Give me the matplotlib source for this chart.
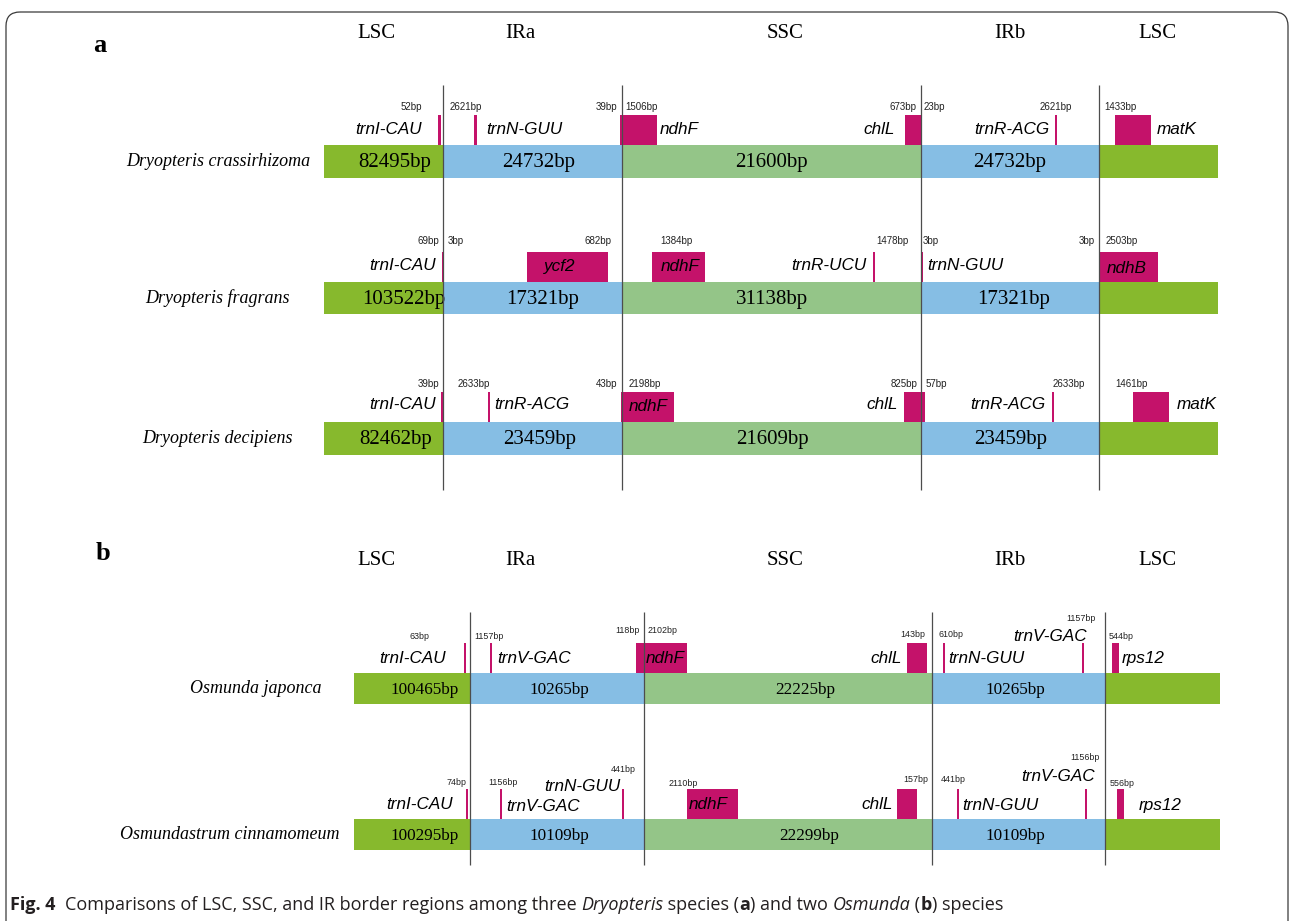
import matplotlib
matplotlib.use('Agg')
import matplotlib.pyplot as plt
from matplotlib.patches import Rectangle, FancyBboxPatch

# ---- data -------------------------------------------------------------
regions = ['LSC', 'IRa', 'SSC', 'IRb', 'LSC']

species = ['Dryopteris crassirhizoma', 'Dryopteris fragrans', 'Dryopteris decipiens',
           'Osmunda japonca', 'Osmundastrum cinnamomeum']

# LSC, IRa, SSC, IRb lengths
lengths = [
    [82495, 24732, 21600, 24732],
    [103522, 17321, 31138, 17321],
    [82462, 23459, 21609, 23459],
    [100465, 10265, 22225, 10265],
    [100295, 10109, 22299, 10109],
]

genes = [
    ['trnI-CAU', 'trnN-GUU', 'ndhF', 'chlL', 'trnR-ACG', 'matK'],
    ['trnI-CAU', 'ycf2', 'ndhF', 'trnR-UCU', 'trnN-GUU', 'ndhB'],
    ['trnI-CAU', 'trnR-ACG', 'ndhF', 'chlL', 'trnR-ACG', 'matK'],
    ['trnI-CAU', 'trnV-GAC', 'ndhF', 'chlL', 'trnN-GUU', 'trnV-GAC', 'rps12'],
    ['trnI-CAU', 'trnV-GAC', 'trnN-GUU', 'ndhF', 'chlL', 'trnN-GUU', 'trnV-GAC', 'rps12'],
]

# distances to the junctions
bp = [
    [52, 2621, 39, 1506, 673, 23, 2621, 1433],
    [69, 3, 682, 1384, 1478, 3, 3, 2503],
    [39, 2633, 43, 2198, 825, 57, 2633, 1461],
    [63, 1157, 118, 2102, 143, 610, 1157, 544],
    [74, 1156, 441, 2110, 157, 441, 1156, 556],
]

# ---- layout (pixels) --------------------------------------------------
W, H = 1292, 921
bar_top = [145, 282, 422, 673, 819]
bar_h = [33, 32, 33, 31, 31]
bar_x = [(324, 1218)] * 3 + [(354, 1220)] * 2
junctions = {'a': [443, 622, 921, 1099], 'b': [470, 643.5, 931.5, 1105]}
junction_y = {'a': (85, 490), 'b': (612, 865)}
row_panel = ['a', 'a', 'a', 'b', 'b']
len_x = [
    [394.5, 539, 771, 1009.7],
    [404, 542.7, 772, 1013.7],
    [395.8, 540, 772, 1011],
    [424.5, 559.7, 805, 1015.5],
    [424.5, 559.7, 809, 1015.3],
]
len_size = [15, 15, 15, 12.3, 12.3]
# species names: right edge, centre line
species_xy = [(310, 161), (290, 298), (293, 438), (321, 688), (340, 834)]
header_x = [376, 520, 785, 1010, 1157]
header_y = {'a': 33, 'b': 560}
panel_xy = {'a': (100, 45), 'b': (103, 553)}

# gene mark: x0, x1, label x, label alignment, label offset above bar
gene_pos = [
    [(438, 440.5, 422, 'right', -15), (474.3, 476.5, 486, 'left', -15),
     (620, 657, 660, 'left', -15), (905, 921, 895, 'right', -15),
     (1055, 1057, 1012, 'center', -15), (1115, 1151, 1157, 'left', -15)],
    [(441.5, 443.5, 436, 'right', -17), (526.7, 608.3, 560, 'center', -16),
     (651.7, 705, 680, 'center', -16), (873.3, 875.3, 866, 'right', -17),
     (921.3, 923.3, 927, 'left', -17), (1099, 1158.3, 1107, 'left', -14)],
    [(440.7, 442.7, 436, 'right', -18), (488, 490, 494, 'left', -18),
     (621, 674.3, 629, 'left', -16), (904.3, 925.3, 898, 'right', -18),
     (1052.3, 1054.3, 1008, 'center', -18), (1133.3, 1169.3, 1177, 'left', -18)],
    [(464.3, 466.3, 413, 'center', -15), (490, 492, 497, 'left', -15),
     (636, 687.3, 646, 'left', -15), (906.7, 926.7, 902, 'right', -15),
     (943.3, 945.3, 948, 'left', -15), (1082.3, 1084.3, 1050, 'center', -37),
     (1112.3, 1119.3, 1122, 'left', -15)],
    [(466, 468, 419.5, 'center', -15), (500.3, 502.3, 506, 'left', -13),
     (622.3, 624.3, 582, 'center', -33), (686.7, 738.3, 689, 'left', -15),
     (897.3, 917.3, 893, 'right', -15), (956.7, 958.7, 962, 'left', -14),
     (1084.7, 1086.7, 1058, 'center', -43), (1116.7, 1124, 1139, 'left', -14)],
]

# bp label: x, alignment, offset above bar
bp_pos = [
    [(411.7, 'center', -38), (450, 'left', -38), (617, 'right', -38), (625, 'left', -38),
     (917, 'right', -38), (924, 'left', -38), (1056, 'center', -38), (1104, 'left', -38)],
    [(439.3, 'right', -41), (448, 'left', -41), (611.7, 'right', -41), (676.7, 'center', -41),
     (876.7, 'left', -41), (922.7, 'left', -41), (1095, 'right', -41), (1105.7, 'left', -41)],
    [(439.3, 'right', -38), (457.3, 'left', -38), (617.7, 'right', -38), (628.3, 'left', -38),
     (917.3, 'right', -38), (925.7, 'left', -38), (1052.7, 'left', -38), (1115, 'left', -38)],
    [(419.3, 'center', -37), (474, 'left', -37), (639.3, 'right', -43), (647.3, 'left', -43),
     (925, 'right', -39), (938.3, 'left', -39), (1096, 'right', -55), (1108.3, 'left', -37)],
    [(466.7, 'right', -37), (488.3, 'left', -37), (636, 'right', -50), (668.3, 'left', -36),
     (928.3, 'right', -40), (941, 'left', -40), (1100, 'right', -62), (1110, 'left', -36)],
]

LSC_C = '#87b92d'
IR_C = '#86bee4'
SSC_C = '#94c588'
GENE_C = '#c4126a'
LINE_C = '#4d4d4d'
seg_colors = [LSC_C, IR_C, SSC_C, IR_C, LSC_C]

SERIF = 'Liberation Serif'
SANS = 'Liberation Sans'
CAP_FONT = 'Open Sans'

fig = plt.figure(figsize=(W / 100, H / 100), dpi=100)
ax = fig.add_axes([0, 0, 1, 1])
ax.set_xlim(0, W)
ax.set_ylim(H, 0)
ax.axis('off')
renderer = fig.canvas.get_renderer()


def text_width(s, size, **kw):
    # width in pixels; bracketed by bars so that spaces count
    t1 = ax.text(0, 0, '|' + s + '|', fontsize=size, **kw)
    t2 = ax.text(0, 0, '||', fontsize=size, **kw)
    w = t1.get_window_extent(renderer).width - t2.get_window_extent(renderer).width
    t1.remove()
    t2.remove()
    return w


# rounded frame around the figure
ax.add_patch(FancyBboxPatch((6, 12), W - 10, 1000,
                            boxstyle='round,pad=0,rounding_size=14',
                            fill=False, edgecolor='#3a3a3a', linewidth=0.9, clip_on=False))

for p in ['a', 'b']:
    ax.text(*panel_xy[p], p, family=SERIF, fontweight='bold', fontsize=19,
            ha='center', va='center')
    for name, x in zip(regions, header_x):
        ax.text(x, header_y[p], name, family=SERIF, fontsize=15, ha='center', va='center')

for i in range(len(species)):
    top, h = bar_top[i], bar_h[i]
    x_left, x_right = bar_x[i]
    edges = [x_left] + junctions[row_panel[i]] + [x_right]
    for k in range(5):
        ax.add_patch(Rectangle((edges[k], top), edges[k + 1] - edges[k], h,
                               facecolor=seg_colors[k], edgecolor='none', zorder=1))
    for k, n in enumerate(lengths[i]):
        ax.text(len_x[i][k], top + h / 2 + 1, f'{n}bp', family=SERIF,
                fontsize=len_size[i], ha='center', va='center', zorder=3)

    sx, sy = species_xy[i]
    ax.text(sx, sy, species[i], family=SERIF, style='italic', fontsize=13,
            ha='right', va='center')

    for name, (x0, x1, lx, ha, dy) in zip(genes[i], gene_pos[i]):
        ax.add_patch(Rectangle((x0, top - 30), x1 - x0, 30, facecolor=GENE_C,
                               edgecolor='none', zorder=2))
        ax.text(lx, top + dy, name, family=SANS, style='italic', fontsize=12.3,
                ha=ha, va='center', zorder=4)

    small = 7 if row_panel[i] == 'a' else 6.4
    for val, (x, ha, dy) in zip(bp[i], bp_pos[i]):
        ax.text(x, top + dy, f'{val}bp', family=SANS, fontsize=small, ha=ha,
                va='center', color='#222222')

for p in ['a', 'b']:
    y0, y1 = junction_y[p]
    ax.vlines(junctions[p], y0, y1, colors=LINE_C, linewidth=0.9, zorder=5)

# caption, assembled piece by piece
caption = [('Fig. 4', 'bold', 'normal'), ('  ', 'normal', 'normal'),
           ('Comparisons of LSC, SSC, and IR border regions among three ', 'normal', 'normal'),
           ('Dryopteris', 'normal', 'italic'), (' species (', 'normal', 'normal'),
           ('a', 'bold', 'normal'), (') and two ', 'normal', 'normal'),
           ('Osmunda', 'normal', 'italic'), (' (', 'normal', 'normal'),
           ('b', 'bold', 'normal'), (') species', 'normal', 'normal')]

size = 12
total = sum(text_width(s, size, family=CAP_FONT, fontweight=w, fontstyle=st)
            for s, w, st in caption)
size = size * 990 / total
x = 10
for s, w, st in caption:
    ax.text(x, 905, s, family=CAP_FONT, fontweight=w, fontstyle=st, fontsize=size,
            ha='left', va='center', color='#231f20')
    x += text_width(s, size, family=CAP_FONT, fontweight=w, fontstyle=st)

fig.savefig('out.png', dpi=100)
